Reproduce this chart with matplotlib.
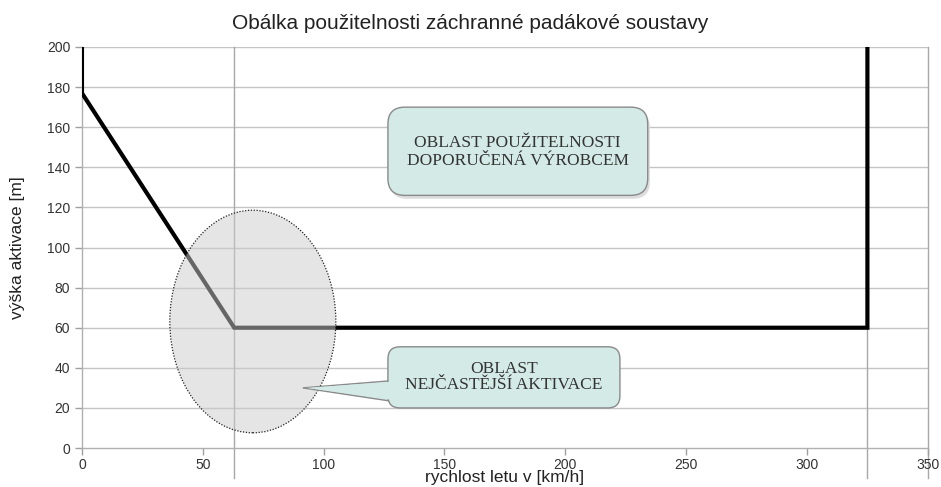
import matplotlib
matplotlib.use("Agg")
import matplotlib.pyplot as plt
from matplotlib.patches import Ellipse, FancyBboxPatch, Polygon

plt.rcParams['font.family'] = ['Liberation Sans Narrow', 'Liberation Sans', 'DejaVu Sans']

# envelope line (speed km/h, height m)
env_x = [0, 0, 63, 325, 325]
env_y = [200, 177, 60, 60, 200]
drop_x = [63, 325]

x_ticks = [0, 50, 100, 150, 200, 250, 300, 350]
y_ticks = [0, 20, 40, 60, 80, 100, 120, 140, 160, 180, 200]

title = "Obálka použitelnosti záchranné padákové soustavy"
xlabel = "rychlost letu v [km/h]"
ylabel = "výška aktivace [m]"
box1_text = "OBLAST POUŽITELNOSTI\nDOPORUČENÁ VÝROBCEM"
box2_text = "OBLAST\nNEJČASTĚJŠÍ AKTIVACE"

fig = plt.figure(figsize=(9.41, 4.87), dpi=100)
ax = fig.add_axes([0.0871, 0.080, 0.8989, 0.8235])
ax.set_xlim(0, 350)
ax.set_ylim(0, 200)

grid_c = "#c4c4c4"
for y in y_ticks[1:]:
    ax.axhline(y, color=grid_c, lw=1.0, zorder=1)
for x in drop_x + [350]:
    ax.plot([x, x], [-15, 200], color="#a8a8a8", lw=1.0, zorder=1, clip_on=False)

ax.plot(env_x, env_y, color="black", lw=3, zorder=3, solid_joinstyle="miter")

# most frequent activation region
ax.add_patch(Ellipse((70.7, 63.1), 68.7, 111, facecolor="#cccccc", alpha=0.5,
                     edgecolor="none", zorder=4))
ax.add_patch(Ellipse((70.7, 63.1), 68.7, 111, facecolor="none", edgecolor="#222222",
                     lw=0.9, linestyle=(0, (1, 1.3)), zorder=4.5))

box_fc = "#d3eae6"
box_ec = "#8a8a8a"
asp = 1.206
serif = ["Liberation Serif", "DejaVu Serif"]

# shadow + box 1
ax.add_patch(FancyBboxPatch((127.5, 124.3), 107.5, 44, boxstyle="round,pad=0,rounding_size=7",
                            mutation_aspect=asp, facecolor="#dddddd", edgecolor="none", zorder=4))
ax.add_patch(FancyBboxPatch((126.6, 126), 107.5, 44, boxstyle="round,pad=0,rounding_size=7",
                            mutation_aspect=asp, facecolor=box_fc, edgecolor=box_ec, lw=1.0, zorder=5))
ax.text(180.3, 147.5, box1_text, ha="center", va="center", fontsize=12.5,
        family=serif, color="#333333", zorder=7, linespacing=1.15)

# box 2 with pointer
tip = (91.4, 30)
ax.add_patch(Polygon([tip, (127.2, 33.5), (127.2, 23.5)], closed=True,
                     facecolor=box_fc, edgecolor=box_ec, lw=1.0, zorder=4.8))
ax.add_patch(FancyBboxPatch((126.6, 20), 96, 30.5, boxstyle="round,pad=0,rounding_size=5",
                            mutation_aspect=asp, facecolor=box_fc, edgecolor=box_ec, lw=1.0, zorder=5))
ax.add_patch(Polygon([(92.8, 30), (130, 33.2), (130, 23.8)], closed=True,
                     facecolor=box_fc, edgecolor="none", zorder=6))
ax.text(174.6, 35.5, box2_text, ha="center", va="center", fontsize=12.5,
        family=serif, color="#333333", zorder=7, linespacing=1.05)

ax.set_xticks(x_ticks)
ax.set_yticks(y_ticks)
ax.tick_params(axis="both", colors="#a0a0a0", labelcolor="#333333", labelsize=10,
               length=5, width=1)
ax.tick_params(axis="x", pad=2)
for s in ["top", "right"]:
    ax.spines[s].set_visible(False)
for s in ["left", "bottom"]:
    ax.spines[s].set_color("#b0b0b0")
    ax.spines[s].set_linewidth(1.0)

ax.set_xlabel(xlabel, fontsize=12.5, color="#222222", labelpad=-1)
ax.set_ylabel(ylabel, fontsize=12.5, color="#222222", labelpad=16)
fig.suptitle(title, fontsize=15, color="#222222", y=0.972,
             family=["Liberation Sans", "DejaVu Sans"])

fig.savefig("out.png", dpi=100)
